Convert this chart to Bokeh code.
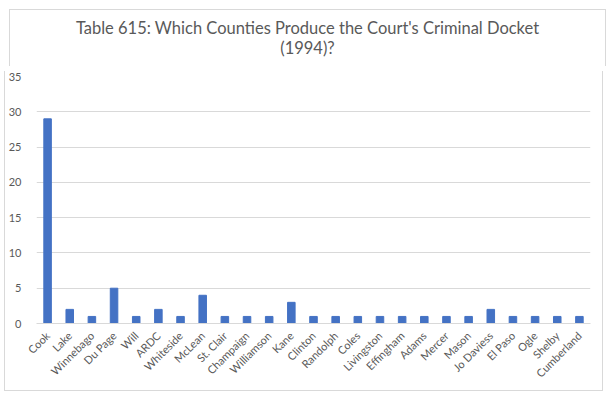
from bokeh.plotting import figure
from bokeh.embed import file_html
from bokeh.resources import INLINE
from bokeh.models import ColumnDataSource, FixedTicker, Range1d, Div
from bokeh.layouts import column
import math

counties = ["Cook", "Lake", "Winnebago", "Du Page", "Will", "ARDC", "Whiteside", "McLean",
            "St. Clair", "Champaign", "Williamson", "Kane", "Clinton", "Randolph", "Coles",
            "Livingston", "Effingham", "Adams", "Mercer", "Mason", "Jo Daviess", "El Paso",
            "Ogle", "Shelby", "Cumberland"]
cases = [29, 2, 1, 5, 1, 2, 1, 4, 1, 1, 1, 3, 1, 1, 1, 1, 1, 1, 1, 1, 2, 1, 1, 1, 1]
y_ticks = [0, 5, 10, 15, 20, 25, 30, 35]
title_lines = ["Table 615: Which Counties Produce the Court's Criminal Docket", "(1994)?"]

FONT = "Lato"
GRAY = "#595959"
BORDER = "1px solid #d9d9d9"

src = ColumnDataSource(dict(county=counties, cases=cases))

title_div = Div(text="<br>".join(title_lines), width=597, height=57,
                styles={"text-align": "center", "font-family": FONT, "font-size": "16.5px",
                        "color": GRAY, "line-height": "20px", "padding-top": "8px",
                        "background": "white", "border-top": BORDER,
                        "border-left": BORDER, "border-right": BORDER})

p = figure(x_range=counties, y_range=Range1d(0, 35), width=599, height=320,
           output_backend="svg", toolbar_location=None,
           min_border_left=28, min_border_right=14, min_border_top=5, min_border_bottom=68,
           styles={"border-left": BORDER, "border-right": BORDER, "border-bottom": BORDER,
                   "box-sizing": "border-box"})

p.vbar(x="county", top="cases", width=0.34, source=src, color="#4472C4")

p.outline_line_color = None
p.background_fill_color = "white"
p.border_fill_color = "white"

p.xgrid.grid_line_color = None
p.ygrid.grid_line_color = "#d9d9d9"
p.ygrid.ticker = FixedTicker(ticks=y_ticks)

p.yaxis.ticker = FixedTicker(ticks=y_ticks)
p.yaxis.axis_line_color = None
p.yaxis.major_tick_line_color = None
p.yaxis.minor_tick_line_color = None
p.yaxis.major_label_text_font = FONT
p.yaxis.major_label_text_font_size = "11px"
p.yaxis.major_label_text_color = GRAY
p.yaxis.major_label_standoff = 9

p.xaxis.axis_line_color = "#d9d9d9"
p.xaxis.major_tick_line_color = None
p.xaxis.minor_tick_line_color = None
p.xaxis.major_label_orientation = math.pi / 4
p.xaxis.major_label_text_font = FONT
p.xaxis.major_label_text_font_size = "11px"
p.xaxis.major_label_text_color = GRAY
p.xaxis.major_label_standoff = 4

layout = column(title_div, p, spacing=0,
                styles={"margin-left": "4px", "margin-top": "4px", "background": "white"})

open("out.html", "w").write(file_html(layout, INLINE))
